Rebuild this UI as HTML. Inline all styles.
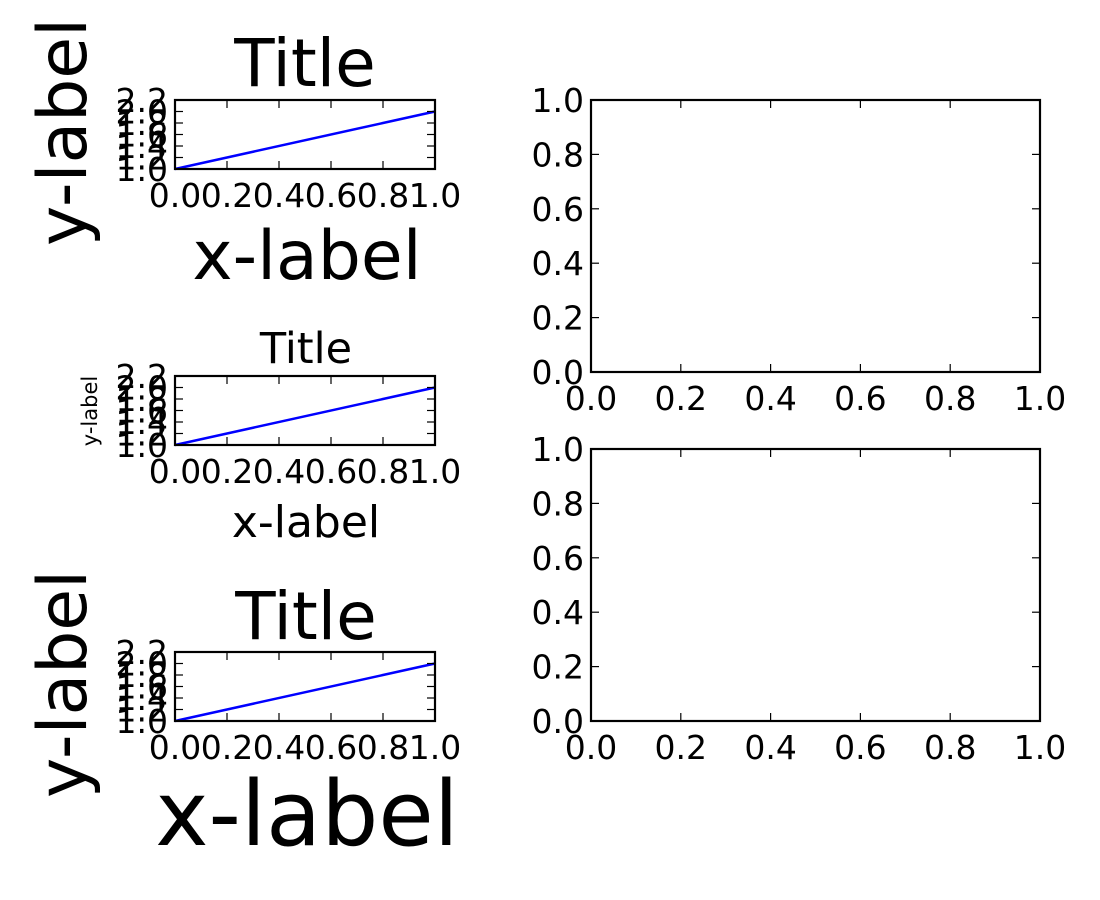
<!DOCTYPE html>
<html><head><meta charset="utf-8"><style>
html,body{margin:0;padding:0;background:#fff;}
svg{display:block;font-family:"DejaVu Sans","Liberation Sans",sans-serif;}
</style></head><body>
<svg id="fig" width="1100" height="900" viewBox="0 0 1100 900"></svg>
<script>
const xTicks=[0,0.2,0.4,0.6,0.8,1.0];
const xTickLabels=["0.0","0.2","0.4","0.6","0.8","1.0"];
const ySmallTicks=[1.0,1.2,1.4,1.6,1.8,2.0,2.2];
const ySmallLabels=["1.0","1.2","1.4","1.6","1.8","2.0","2.2"];
const yBigTicks=[0,0.2,0.4,0.6,0.8,1.0];
const yBigLabels=["0.0","0.2","0.4","0.6","0.8","1.0"];
const lineX=[0,1];
const lineY=[1,2];
const NS="http://www.w3.org/2000/svg";
const svg=document.getElementById('fig');
function mk(tag,attrs,parent){const e=document.createElementNS(NS,tag);for(const k in attrs)e.setAttribute(k,attrs[k]);(parent||svg).appendChild(e);return e;}
function axes(name,x0,y0,x1,y1,ymin,ymax,yt,ytl,hasLine){
  const g=mk('g',{});
  
  
  const sx=v=>x0+(x1-x0)*v;
  const sy=v=>y1-(y1-y0)*(v-ymin)/(ymax-ymin);
  if(hasLine){
    const p=mk('polyline',{points:lineX.map((v,i)=>sx(v)+','+sy(lineY[i])).join(' '),fill:'none',stroke:'#0000ff','stroke-width':2.5},g);
    
    
  }
  xTicks.forEach((v,i)=>{
    const x=sx(v);
    mk('line',{x1:x,x2:x,y1:y1,y2:y1-8,stroke:'#000','stroke-width':1.2},g);
    mk('line',{x1:x,x2:x,y1:y0,y2:y0+8,stroke:'#000','stroke-width':1.2},g);
    const t=mk('text',{x:x,y:y1+38,'font-size':33,'text-anchor':'middle'},g);
    t.textContent=xTickLabels[i];
    
    
  });
  yt.forEach((v,i)=>{
    const y=sy(v);
    mk('line',{x1:x0,x2:x0+8,y1:y,y2:y,stroke:'#000','stroke-width':1.2},g);
    mk('line',{x1:x1,x2:x1-8,y1:y,y2:y,stroke:'#000','stroke-width':1.2},g);
    const t=mk('text',{x:x0-7,y:y+12,'font-size':33,'text-anchor':'end'},g);
    t.textContent=ytl[i];
    
    
  });
  const r=mk('rect',{x:x0,y:y0,width:x1-x0,height:y1-y0,fill:'none',stroke:'#000','stroke-width':2.2},g);
  
  
}
function label(txt,x,y,size,rot,name){
  const t=mk('text',{x:x,y:y,'font-size':size,'text-anchor':'middle'});
  if(rot)t.setAttribute('transform','rotate(-90 '+x+' '+y+')');
  t.textContent=txt;
  
  
}
axes('axes-top-left',175,100,435,169,1.0,2.2,ySmallTicks,ySmallLabels,true);
axes('axes-middle-left',175,376,435,445,1.0,2.2,ySmallTicks,ySmallLabels,true);
axes('axes-bottom-left',175,652,435,721,1.0,2.2,ySmallTicks,ySmallLabels,true);
axes('axes-top-right',591,100,1040,372,0,1,yBigTicks,yBigLabels,false);
axes('axes-bottom-right',591,449,1040,721,0,1,yBigTicks,yBigLabels,false);
label('Title',305,86,66,false,'title-top');
label('x-label',307,279,68,false,'x-label-top');
label('y-label',86,132,68,true,'y-label-top');
label('Title',306,363,43,false,'title-middle');
label('x-label',306,537,44,false,'x-label-middle');
label('y-label',97,411,21,true,'y-label-middle');
label('Title',306,639,66,false,'title-bottom');
label('x-label',307,845,90,false,'x-label-bottom');
label('y-label',86,684,68,true,'y-label-bottom');
</script>
</body></html>
